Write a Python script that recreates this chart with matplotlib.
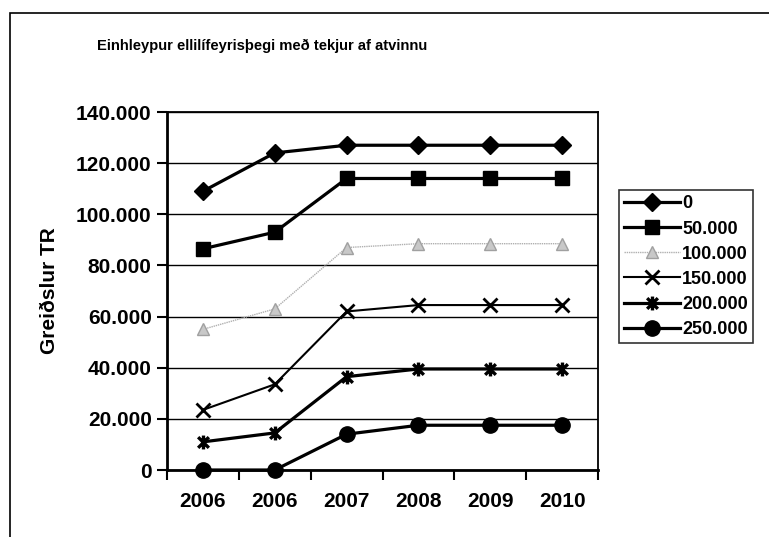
import matplotlib
matplotlib.use('Agg')
import matplotlib.pyplot as plt
from matplotlib.path import Path
from matplotlib.patches import Rectangle
from matplotlib.ticker import FuncFormatter, FixedLocator

plt.rcParams['font.family'] = ['Liberation Sans', 'DejaVu Sans']
plt.rcParams['font.weight'] = 'bold'

years = ['2006', '2006', '2007', '2008', '2009', '2010']
series_names = ['0', '50.000', '100.000', '150.000', '200.000', '250.000']
vals_0 = [109000, 124000, 127000, 127000, 127000, 127000]
vals_50 = [86500, 93000, 114000, 114000, 114000, 114000]
vals_100 = [55000, 63000, 87000, 88500, 88500, 88500]
vals_150 = [23500, 33500, 62000, 64500, 64500, 64500]
vals_200 = [11000, 14500, 36500, 39500, 39500, 39500]
vals_250 = [0, 0, 14000, 17500, 17500, 17500]

# asterisk marker: x with a vertical bar through it
star = Path([(-1, -1), (1, 1), (-1, 1), (1, -1), (0, -1.3), (0, 1.3)],
            [Path.MOVETO, Path.LINETO, Path.MOVETO, Path.LINETO, Path.MOVETO, Path.LINETO])

styles = [
    dict(color='black', lw=2.3, marker='D', ms=9, mfc='black', mec='black'),
    dict(color='black', lw=2.3, marker='s', ms=10, mfc='black', mec='black'),
    dict(color='#b0b0b0', lw=1.0, ls=(0, (1, 0.6)), marker='^', ms=8, mfc='#c8c8c8', mec='#a0a0a0'),
    dict(color='black', lw=1.5, marker='x', ms=10, mew=2.0, mec='black'),
    dict(color='black', lw=2.3, marker=star, ms=10, mew=2.4, mec='black'),
    dict(color='black', lw=2.3, marker='o', ms=11, mfc='black', mec='black'),
]
data = [vals_0, vals_50, vals_100, vals_150, vals_200, vals_250]

fig = plt.figure(figsize=(7.69, 5.37), dpi=100)
fig.patches.append(Rectangle((10 / 769, -0.1), 1.2, (537 - 13) / 537 + 0.1,
                             transform=fig.transFigure, fill=False, ec='black', lw=1.2))

ax = fig.add_axes([167 / 769, 67 / 537, 431 / 769, 358 / 537])
x = list(range(len(years)))
handles = []
for vals, st, name in zip(data, styles, series_names):
    h, = ax.plot(x, vals, label=name, clip_on=False, zorder=3, **st)
    handles.append(h)

ax.set_xlim(-0.5, len(years) - 0.5)
ax.set_ylim(0, 140000)
ax.set_yticks(range(0, 140001, 20000))
ax.yaxis.set_major_formatter(FuncFormatter(lambda v, p: format(int(v), ',').replace(',', '.')))
ax.grid(axis='y', color='black', lw=1.0)
ax.set_axisbelow(True)

ax.set_xticks(x)
ax.set_xticklabels(years)
ax.xaxis.set_minor_locator(FixedLocator([i - 0.5 for i in range(len(years) + 1)]))
ax.tick_params(axis='x', which='major', length=0, pad=16, labelsize=15)
ax.tick_params(axis='x', which='minor', length=7, width=1.5, direction='out')
ax.tick_params(axis='y', length=7, width=1.5, direction='out', labelsize=15, pad=4)
for lab in ax.get_xticklabels() + ax.get_yticklabels():
    lab.set_fontweight('bold')
for side in ['left', 'bottom']:
    ax.spines[side].set_linewidth(2.0)
for side in ['top', 'right']:
    ax.spines[side].set_linewidth(1.3)

ax.set_ylabel('Greiðslur TR', fontsize=15, fontweight='bold', labelpad=12)
fig.text(262 / 769, 1 - 46 / 537, 'Einhleypur ellilífeyrisþegi með tekjur af atvinnu',
         ha='center', va='center', fontsize=10.6, fontweight='bold')

leg = fig.legend(handles=handles, loc='upper left', bbox_to_anchor=(619 / 769, 1 - 190 / 537),
                 frameon=True, fancybox=False, edgecolor='black', fontsize=13,
                 handlelength=3.1, handletextpad=0.1, labelspacing=0.45, borderpad=0.3,
                 borderaxespad=0)
leg.get_frame().set_linewidth(1.2)
for t in leg.get_texts():
    t.set_fontweight('bold')

fig.savefig('out.png', dpi=100)
